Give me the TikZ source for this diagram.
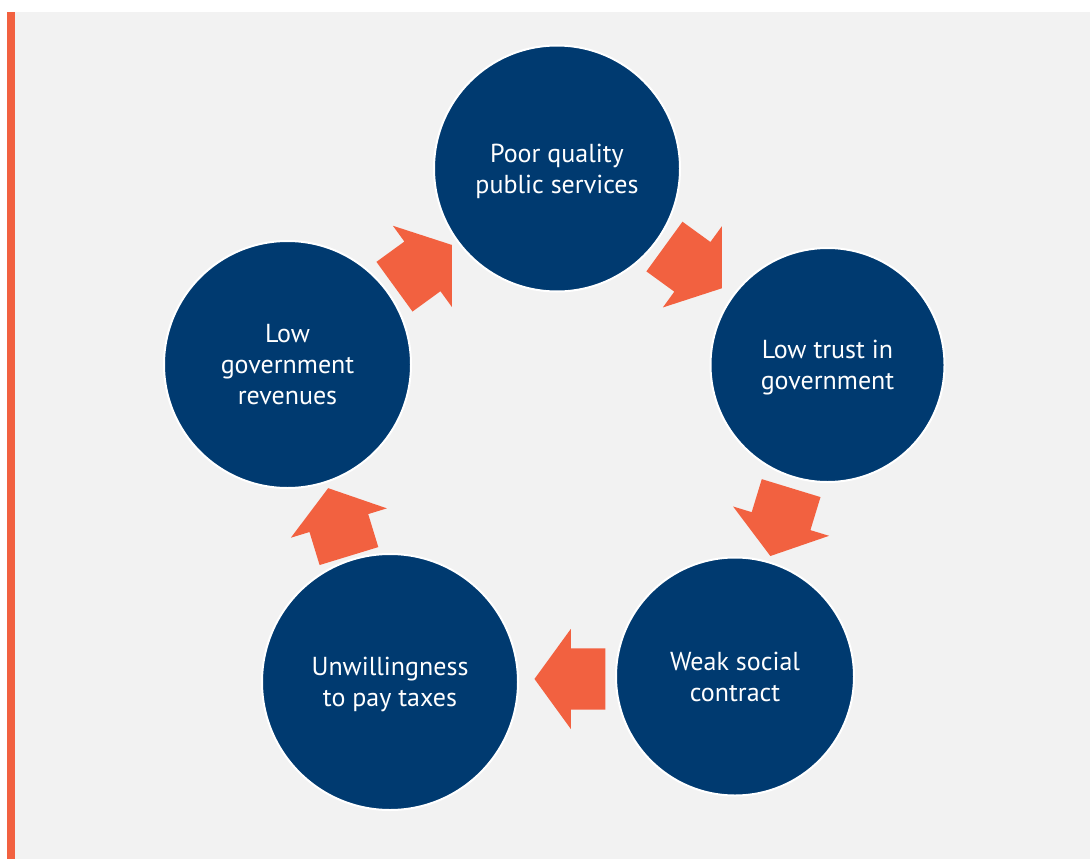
\documentclass[tikz,border=0pt]{standalone}
\usepackage{fontspec}
\setmainfont{PT Sans}
\usetikzlibrary{shapes.arrows,calc}
\definecolor{navy}{HTML}{003A70}
\definecolor{arroworange}{HTML}{F26140}
\definecolor{panel}{HTML}{F2F2F2}

\begin{document}
\begin{tikzpicture}[x=1pt,y=-1pt,
issue/.style ={ circle ,fill=navy ,draw=white ,line width=2pt ,
text=white ,align=center ,inner sep=0pt ,text depth=0pt ,
font=\fontsize{26}{31}\selectfont},
cyclearrow/.style ={ single arrow ,fill=arroworange ,draw=none ,
inner xsep=0pt ,inner ysep=30.5pt ,minimum height=71pt ,
single arrow head extend=19.5pt ,single arrow tip angle=108}]
\useasboundingbox (0,0) rectangle (1090,859);
\fill[white] (0,0) rectangle (1090,859);
\fill[panel] (15,12) rectangle (1090,859);
\fill[arroworange] (7,12) rectangle (15,859);
\node[issue,minimum size=246pt] (P) at (557,168.5) {Poor quality\\public services};
\node[issue,minimum size=234pt] (T) at (827.5,365) {Low trust in\\government};
\node[issue,minimum size=238pt] (W) at (735,676.5) {Weak social\\contract};
\node[issue,minimum size=256pt] (U) at (390,682) {Unwillingness\\to pay taxes};
\node[issue,minimum size=247pt] (R) at (287.5,364.5) {Low\\government\\revenues};
\node[cyclearrow,rotate=36] (RP) at ($(R)!0.47!(P)$) {};
\node[cyclearrow,rotate=-36] (PT) at ($(P)!0.47!(T)$) {};
\node[cyclearrow,rotate=-107] (TW) at ($(T)!0.47!(W)$) {};
\node[cyclearrow,rotate=180] (WU) at ($(W)!0.446!(U)$) {};
\node[cyclearrow,rotate=107] (UR) at ($(U)!0.47!(R)$) {};
\end{tikzpicture}
\end{document}
